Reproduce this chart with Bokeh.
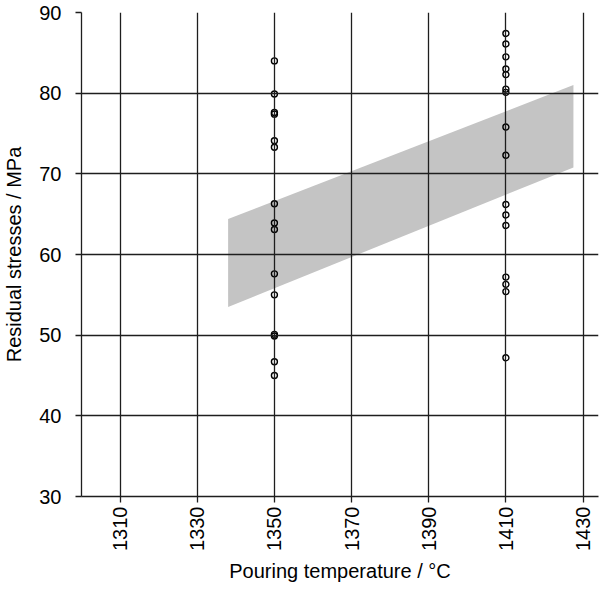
import math
from bokeh.plotting import figure
from bokeh.models import Range1d, FixedTicker
from bokeh.embed import file_html
from bokeh.resources import INLINE

# ---- data ----
x_ticks = [1310, 1330, 1350, 1370, 1390, 1410, 1430]
y_ticks = [30, 40, 50, 60, 70, 80, 90]

temp_a = 1350
stress_a = [84.0, 79.9, 77.6, 77.4, 74.1, 73.3, 66.3, 63.9, 63.1,
            57.6, 55.0, 50.1, 49.9, 46.7, 45.0]
temp_b = 1410
stress_b = [87.4, 86.1, 84.5, 83.0, 82.3, 80.5, 80.1, 75.8, 72.3,
            66.2, 64.9, 63.6, 57.2, 56.3, 55.4, 47.2]

band_x = [1338, 1427.5]
band_lower = [53.5, 70.8]
band_upper = [64.4, 81.0]

FONT = "Liberation Sans"
INK = "#1e1e1e"

p = figure(width=611, height=605, output_backend="svg", toolbar_location=None,
           x_range=Range1d(1300, 1434), y_range=Range1d(30, 90),
           min_border_left=81, min_border_right=13, min_border_top=12,
           min_border_bottom=109)
p.outline_line_color = None
p.background_fill_color = "white"

# band
band = p.varea(x=band_x, y1=band_lower, y2=band_upper, fill_color="#c4c4c4")
band.level = "underlay"

# grid
for g in (p.xgrid, p.ygrid):
    g.grid_line_color = INK
    g.grid_line_width = 1.3
    g.grid_line_alpha = 1.0
    g.level = "glyph"
p.xgrid.ticker = FixedTicker(ticks=x_ticks)
p.ygrid.ticker = FixedTicker(ticks=y_ticks)

# points
xs = [temp_a] * len(stress_a) + [temp_b] * len(stress_b)
ys = stress_a + stress_b
p.scatter(xs, ys, marker="circle", size=6, fill_color=None,
          line_color="black", line_width=1.4)

# axes
p.xaxis.ticker = FixedTicker(ticks=x_ticks)
p.yaxis.ticker = FixedTicker(ticks=y_ticks)
for ax in (p.xaxis[0], p.yaxis[0]):
    ax.axis_line_color = INK
    ax.axis_line_width = 1.3
    ax.major_tick_line_color = INK
    ax.major_tick_line_width = 1.3
    ax.major_tick_in = 0
    ax.major_tick_out = 6
    ax.minor_tick_line_color = None
    ax.major_label_text_font = FONT
    ax.major_label_text_font_size = "20px"
    ax.major_label_text_color = "black"
    ax.axis_label_text_font = FONT
    ax.axis_label_text_font_size = "20px"
    ax.axis_label_text_font_style = "normal"
    ax.axis_label_text_color = "black"

p.xaxis.major_label_orientation = math.pi / 2
p.xaxis.major_label_standoff = 4
p.xaxis.axis_label = "Pouring temperature / °C"
p.xaxis.axis_label_standoff = 6

p.yaxis.major_label_standoff = 14
p.yaxis.axis_label = "Residual stresses / MPa"
p.yaxis.axis_label_standoff = 11

open("out.html", "w").write(file_html(p, INLINE))
